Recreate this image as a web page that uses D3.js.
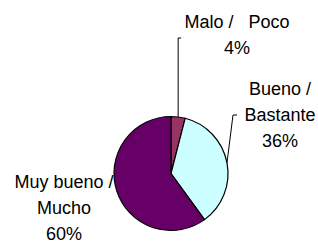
<!DOCTYPE html>
<html>
<head>
<meta charset="utf-8">
<script src="https://cdn.jsdelivr.net/npm/d3@7"></script>
<style>
  html, body { margin: 0; padding: 0; background: #fff; }
  svg { display: block; }
  text { font-family: "Liberation Sans", Arial, sans-serif; font-size: 18px; fill: #000; white-space: pre; }
</style>
</head>
<body>
<svg id="chart" width="318" height="243"></svg>
<script>
const categories = ["Malo /   Poco", "Bueno / Bastante", "Muy bueno / Mucho"];
const labelLines = [["Malo /   Poco"], ["Bueno /", "Bastante"], ["Muy bueno /", "Mucho"]];
const values = [4, 36, 60];
const colors = ["#993366", "#CCFFFF", "#660066"];

const svg = d3.select("#chart");
const cx = 171, cy = 173.5, r = 57;

const pie = d3.pie().sort(null).value(d => d)(values);
const arc = d3.arc().innerRadius(0).outerRadius(r);

const g = svg.append("g").attr("transform", `translate(${cx},${cy})`);
g.selectAll("path").data(pie).enter().append("path")
  .attr("d", arc)
  .attr("fill", (d, i) => colors[i])
  .attr("stroke", "#000")
  .attr("stroke-width", 1.2);

const labelPos = [
  { x: 237, y: 28 },
  { x: 280, y: 95 },
  { x: 64, y: 188 }
];
const lineH = 26;

labelPos.forEach((p, i) => {
  const lines = labelLines[i].concat([Math.round(values[i]) + "%"]);
  const t = svg.append("text").attr("text-anchor", "middle");
  lines.forEach((s, k) => {
    t.append("tspan").attr("x", p.x).attr("y", p.y + k * lineH).text(s);
  });
});

// leader lines from slice midpoints
const pt = (d) => {
  const a = (d.startAngle + d.endAngle) / 2;
  return [cx + r * Math.sin(a), cy - r * Math.cos(a)];
};
const p0 = pt(pie[0]);
svg.append("path")
  .attr("d", `M${p0[0]},${p0[1]} L${p0[0]},38 L${p0[0] + 3},38`)
  .attr("fill", "none").attr("stroke", "#000").attr("stroke-width", 1);
const p1 = pt(pie[1]);
svg.append("path")
  .attr("d", `M${p1[0]},${p1[1]} L233,115 L237,115`)
  .attr("fill", "none").attr("stroke", "#000").attr("stroke-width", 1);
</script>
</body>
</html>
